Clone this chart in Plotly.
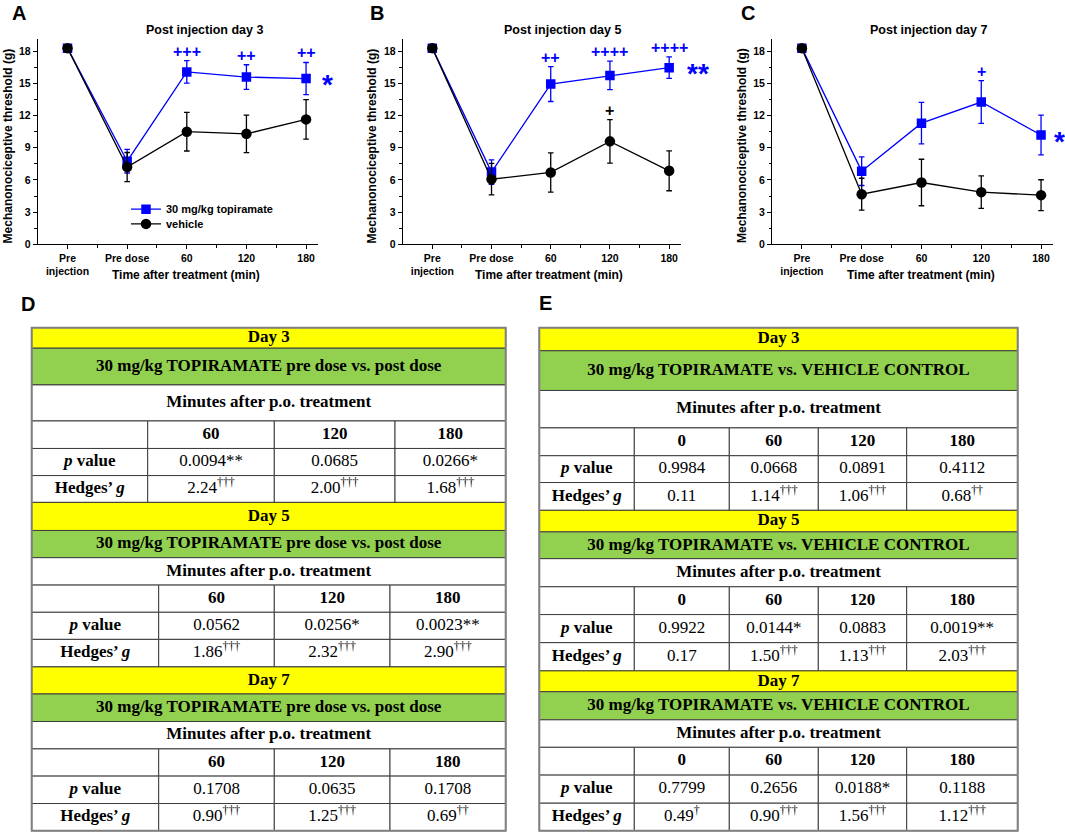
import plotly.graph_objects as go

# ---------------- chart data ----------------
categories = ["Pre<br>injection", "Pre dose", "60", "120", "180"]
panel_titles = ["Post injection day 3", "Post injection day 5", "Post injection day 7"]
panel_letters = ["A", "B", "C"]
series_names = ["30 mg/kg topiramate", "vehicle"]
y_ticks = [0, 3, 6, 9, 12, 15, 18]

A_topi = [18.3, 7.75, 16.08, 15.6, 15.46]
A_topi_err = [0.2, 1.1, 1.05, 1.15, 1.5]
A_veh = [18.3, 7.2, 10.5, 10.3, 11.65]
A_veh_err = [0.2, 1.36, 1.8, 1.75, 1.85]

B_topi = [18.3, 6.73, 14.95, 15.75, 16.48]
B_topi_err = [0.2, 1.15, 1.63, 1.33, 1.0]
B_veh = [18.3, 6.07, 6.7, 9.6, 6.85]
B_veh_err = [0.2, 1.47, 1.83, 2.03, 1.86]

C_topi = [18.3, 6.82, 11.3, 13.27, 10.19]
C_topi_err = [0.2, 1.34, 1.93, 2.0, 1.86]
C_veh = [18.3, 4.67, 5.76, 4.86, 4.58]
C_veh_err = [0.2, 1.49, 2.17, 1.52, 1.44]

A_topi_sig = ["", "", "+++", "++", "++"]
A_veh_sig = ["", "", "", "", ""]
B_topi_sig = ["", "", "++", "++++", "++++"]
B_veh_sig = ["", "", "", "+", ""]
C_topi_sig = ["", "", "", "+", ""]
C_veh_sig = ["", "", "", "", ""]
overall_sig = ["*", "**", "*"]

# ---------------- table data ----------------
table_letters = ["D", "E"]
day_labels = ["Day 3", "Day 5", "Day 7"]
D_comparison = "30 mg/kg TOPIRAMATE pre dose vs. post dose"
E_comparison = "30 mg/kg TOPIRAMATE vs. VEHICLE CONTROL"
minutes_header = "Minutes after p.o. treatment"
row_labels = ["<b><i>p</i> value</b>", "<b>Hedges’ <i>g</i></b>"]

D_minutes = ["60", "120", "180"]
D_p = [["0.0094**", "0.0685", "0.0266*"],
       ["0.0562", "0.0256*", "0.0023**"],
       ["0.1708", "0.0635", "0.1708"]]
D_g = [["2.24", "2.00", "1.68"],
       ["1.86", "2.32", "2.90"],
       ["0.90", "1.25", "0.69"]]
D_g_dag = [["†††", "†††", "†††"],
           ["†††", "†††", "†††"],
           ["†††", "†††", "††"]]

E_minutes = ["0", "60", "120", "180"]
E_p = [["0.9984", "0.0668", "0.0891", "0.4112"],
       ["0.9922", "0.0144*", "0.0883", "0.0019**"],
       ["0.7799", "0.2656", "0.0188*", "0.1188"]]
E_g = [["0.11", "1.14", "1.06", "0.68"],
       ["0.17", "1.50", "1.13", "2.03"],
       ["0.49", "0.90", "1.56", "1.12"]]
E_g_dag = [["", "†††", "†††", "††"],
           ["", "†††", "†††", "†††"],
           ["†", "†††", "†††", "†††"]]

# ---------------- layout constants (pixels) ----------------
W, H = 1065, 839
SANS = "Arial, Liberation Sans, sans-serif"
SERIF = "Times New Roman, Liberation Serif, serif"
BLUE = "#0000FF"
BLACK = "#000000"
YELLOW = "#FFFF00"
GREEN = "#92D050"

chart_x = [(37.7, 318.0), (402.7, 681.0), (772.0, 1053.0)]
chart_top, chart_bottom = 39.3, 246.0
title_pos = [(204, 30), (562, 30), (928, 30)]
letter_pos = [(19, 13), (377, 13), (748, 13)]
xtitle_pos = [(185.5, 277), (549, 277), (921, 277)]
ytitle_pos = [(7.5, 147), (371.5, 147), (742, 147)]
star_xshift = [21, 29, 18]

table_top = 330
D_rows = [[20.7, 37, 36.3, 27.7, 27.3, 27], [28.3, 27.4, 27.6, 27.4, 27.3, 27.7],
          [27.3, 27.7, 27.6, 27.4, 27.6, 27.4]]
D_cols = [[31.7, 147.7, 274.3, 395, 505.7], [31.7, 158.7, 274.3, 390, 505.7],
          [31.7, 158.7, 274.3, 390, 505.7]]
E_rows = [[23.3, 40, 37.7, 28, 27, 28], [21.7, 27, 28.3, 28, 28.3, 28.4],
          [21, 28.3, 27.7, 28, 28.3, 27.7]]
E_cols = [[539.3, 634.3, 729.3, 818.3, 906.7, 1017.7]] * 3
table_letter_pos = [(28, 306.5), (545, 305.5)]

fig = go.Figure()

panels = [
    (A_topi, A_topi_err, A_veh, A_veh_err, A_topi_sig, A_veh_sig),
    (B_topi, B_topi_err, B_veh, B_veh_err, B_topi_sig, B_veh_sig),
    (C_topi, C_topi_err, C_veh, C_veh_err, C_topi_sig, C_veh_sig),
]
xs = list(range(len(categories)))
annotations = []

for i, (topi, topi_err, veh, veh_err, tsig, vsig) in enumerate(panels):
    xa = "x" if i == 0 else f"x{i+1}"
    ya = "y" if i == 0 else f"y{i+1}"
    fig.add_trace(go.Scatter(
        x=xs, y=topi, name=series_names[0], xaxis=xa, yaxis=ya,
        mode="lines+markers", showlegend=(i == 0), legend="legend",
        line=dict(color=BLUE, width=1.3),
        marker=dict(symbol="square", size=9.5, color=BLUE),
        error_y=dict(type="data", array=topi_err, visible=True, color=BLUE,
                     thickness=1.3, width=2.8),
        hoverinfo="skip"))
    fig.add_trace(go.Scatter(
        x=xs, y=veh, name=series_names[1], xaxis=xa, yaxis=ya,
        mode="lines+markers", showlegend=(i == 0), legend="legend2",
        line=dict(color=BLACK, width=1.3),
        marker=dict(symbol="circle", size=10.5, color=BLACK),
        error_y=dict(type="data", array=veh_err, visible=True, color=BLACK,
                     thickness=1.3, width=2.8),
        hoverinfo="skip"))
    for j in xs:
        if tsig[j]:
            annotations.append(dict(x=j, y=topi[j] + topi_err[j], xref=xa, yref=ya,
                                    text=tsig[j], showarrow=False, yanchor="bottom",
                                    yshift=-1,
                                    font=dict(family=SANS, size=16, color=BLUE, weight="bold")))
        if vsig[j]:
            annotations.append(dict(x=j, y=veh[j] + veh_err[j], xref=xa, yref=ya,
                                    text=vsig[j], showarrow=False, yanchor="bottom",
                                    yshift=-1,
                                    font=dict(family=SANS, size=16, color=BLACK, weight="bold")))
    annotations.append(dict(x=xs[-1], y=topi[-1], xref=xa, yref=ya, text=overall_sig[i],
                            showarrow=False, xanchor="center", yanchor="middle",
                            xshift=star_xshift[i], yshift=-6, borderpad=0,
                            font=dict(family=SANS, size=28, color=BLUE, weight="bold")))

    l, r = chart_x[i]
    fig.layout[f"xaxis{'' if i == 0 else i+1}"] = dict(
        domain=[l / W, r / W], anchor=ya, range=[-0.5, 4.2],
        tickmode="array", tickvals=xs, ticktext=categories,
        showline=True, linecolor="black", linewidth=1, ticks="outside",
        ticklen=4, tickwidth=1, tickcolor="black", showgrid=False, zeroline=False,
        tickfont=dict(family=SANS, size=10.5, color="black", weight="bold"),
        minor=dict(tickmode="array", tickvals=[0.5, 1.5, 2.5, 3.5], ticks="outside",
                   ticklen=2.5, tickwidth=1, tickcolor="black"),
        fixedrange=True)
    fig.layout[f"yaxis{'' if i == 0 else i+1}"] = dict(
        domain=[(H - chart_bottom) / H, (H - chart_top) / H], anchor=xa,
        range=[0, 19.15], tickmode="array", tickvals=y_ticks,
        showline=True, linecolor="black", linewidth=1, ticks="outside",
        ticklen=4, tickwidth=1, tickcolor="black", showgrid=False, zeroline=False,
        tickfont=dict(family=SANS, size=10.5, color="black", weight="bold"),
        minor=dict(tickmode="array", tickvals=[1.5, 4.5, 7.5, 10.5, 13.5, 16.5],
                   ticks="outside", ticklen=2.5, tickwidth=1, tickcolor="black"),
        fixedrange=True)

    tx, ty = title_pos[i]
    annotations.append(dict(x=tx, y=ty, xref="x4", yref="y4", text=panel_titles[i],
                            showarrow=False,
                            font=dict(family=SANS, size=12.5, color="black", weight="bold")))
    lx, ly = letter_pos[i]
    annotations.append(dict(x=lx, y=ly, xref="x4", yref="y4", text=panel_letters[i],
                            showarrow=False,
                            font=dict(family=SANS, size=20, color="black", weight="bold")))
    xtx, xty = xtitle_pos[i]
    annotations.append(dict(x=xtx, y=xty, xref="x4", yref="y4",
                            text="Time after treatment (min)", showarrow=False,
                            font=dict(family=SANS, size=12, color="black", weight="bold")))
    ytx, yty = ytitle_pos[i]
    annotations.append(dict(x=ytx, y=yty, xref="x4", yref="y4", textangle=-90,
                            text="Mechanonociceptive threshold (g)", showarrow=False,
                            font=dict(family=SANS, size=12, color="black", weight="bold")))

# ---------------- tables ----------------
shapes = []
txt_x, txt_y, txt_s = [], [], []


def rect(x0, y0, x1, y1, fill):
    shapes.append(dict(type="rect", xref="x4", yref="y4", x0=x0, y0=y0, x1=x1, y1=y1,
                       fillcolor=fill, line=dict(color="#3c3c3c", width=1), layer="below"))


def text(x, y, s):
    txt_x.append(x)
    txt_y.append(y)
    txt_s.append(s)


def build_table(cols_list, rows_list, comparison, minutes, pvals, gvals, gdags):
    y = table_top
    for s in range(3):
        cols = cols_list[s]
        rows = rows_list[s]
        L, R = cols[0], cols[-1]
        bounds = [y]
        for h in rows:
            bounds.append(bounds[-1] + h)
        mid = [(bounds[k] + bounds[k + 1]) / 2 for k in range(6)]
        rect(L, bounds[0], R, bounds[1], YELLOW)
        text((L + R) / 2, mid[0], f"<b>{day_labels[s]}</b>")
        rect(L, bounds[1], R, bounds[2], GREEN)
        text((L + R) / 2, mid[1], f"<b>{comparison}</b>")
        rect(L, bounds[2], R, bounds[3], "white")
        text((L + R) / 2, mid[2], f"<b>{minutes_header}</b>")
        for c in range(len(cols) - 1):
            cx = (cols[c] + cols[c + 1]) / 2
            for rr in (3, 4, 5):
                rect(cols[c], bounds[rr], cols[c + 1], bounds[rr + 1], "white")
            if c == 0:
                text(cx, mid[4], row_labels[0])
                text(cx, mid[5], row_labels[1])
            else:
                text(cx, mid[3], f"<b>{minutes[c - 1]}</b>")
                text(cx, mid[4], pvals[s][c - 1])
                dag = gdags[s][c - 1]
                text(cx, mid[5], gvals[s][c - 1] + (f"<sup>{dag}</sup>" if dag else ""))
        y = bounds[-1]
    shapes.append(dict(type="rect", xref="x4", yref="y4", x0=cols_list[0][0], y0=table_top,
                       x1=cols_list[0][-1], y1=y, line=dict(color="#808080", width=2),
                       fillcolor="rgba(0,0,0,0)", layer="above"))


build_table(D_cols, D_rows, D_comparison, D_minutes, D_p, D_g, D_g_dag)
build_table(E_cols, E_rows, E_comparison, E_minutes, E_p, E_g, E_g_dag)

fig.add_trace(go.Scatter(x=txt_x, y=txt_y, text=txt_s, mode="text", xaxis="x4", yaxis="y4",
                         textposition="middle center", showlegend=False, hoverinfo="skip",
                         textfont=dict(family=SERIF, size=17, color="black")))

for k, (lx, ly) in enumerate(table_letter_pos):
    annotations.append(dict(x=lx, y=ly, xref="x4", yref="y4", text=table_letters[k],
                            showarrow=False,
                            font=dict(family=SANS, size=20, color="black", weight="bold")))

fig.update_layout(
    width=W, height=H, margin=dict(l=0, r=0, t=0, b=0),
    paper_bgcolor="white", plot_bgcolor="rgba(0,0,0,0)",
    xaxis4=dict(domain=[0, 1], range=[0, W], visible=False, anchor="y4", fixedrange=True),
    yaxis4=dict(domain=[0, 1], range=[H, 0], visible=False, anchor="x4", fixedrange=True),
    legend=dict(x=126 / W, y=(H - 210.7) / H, xanchor="left", yanchor="middle",
                bgcolor="rgba(0,0,0,0)", itemwidth=30,
                font=dict(family=SANS, size=11, color="black", weight="bold")),
    legend2=dict(x=126 / W, y=(H - 225.5) / H, xanchor="left", yanchor="middle",
                 bgcolor="rgba(0,0,0,0)", itemwidth=30,
                 font=dict(family=SANS, size=11, color="black", weight="bold")),
    annotations=annotations, shapes=shapes, showlegend=True,
)

fig.write_html("out.html",
               config={"displayModeBar": False},
               post_script="document.body.style.margin='0px';"
                           "document.body.style.overflow='hidden';")
